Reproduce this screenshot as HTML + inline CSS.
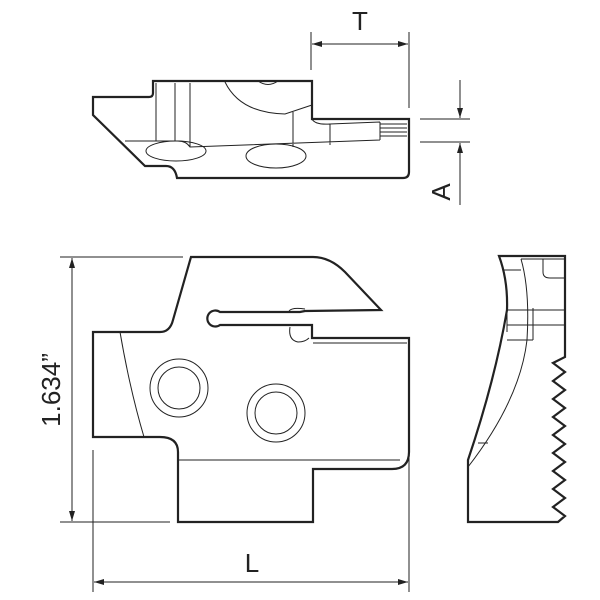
<!DOCTYPE html>
<html><head><style>body{margin:0;background:#fff}svg{display:block}</style></head><body>
<svg width="600" height="600" viewBox="0 0 600 600" xmlns="http://www.w3.org/2000/svg" font-family="Liberation Sans, sans-serif">
<defs>
<marker id="ar" viewBox="0 0 10 6" refX="10" refY="3" markerWidth="10" markerHeight="6" markerUnits="userSpaceOnUse" orient="auto-start-reverse"><path d="M0,0 L10,3 L0,6 z" fill="#222"/></marker>
</defs>
<g fill="none" stroke="#222">
<!-- TOP VIEW -->
<path stroke-width="2.2" d="M93,97 L149,97 Q153,97 153,93 L153,81 L312,81 L312,119 L409,119 L409,172 Q409,178 403,178 L177,178 Q175,166 166,166 L145,166 L93,115 Z"/>
<g stroke-width="1">
<path d="M156,83 V141 M175,83 V141 M190,83 V147 M125,141 L178,141 Q186,141 190,147 L380,140 M225,82 Q240,113 285,114 L312,105 M293,112 V147 M330,124 V145 M312,119 Q315,125 330,124 L380,122 M380,122 V140 M380,124 H407 M380,128 H407 M380,132 H407 M380,136 H407 M258,81 Q268,88 278,81"/>
<ellipse cx="176" cy="151" rx="30" ry="10"/>
<ellipse cx="276" cy="156" rx="30" ry="12"/>
<path d="M311,32 V70 M409,32 V108"/>
<path d="M312,44 H408" marker-start="url(#ar)" marker-end="url(#ar)"/>
<path d="M420,119 H470 M420,142 H470"/>
<path d="M460,80 V118" marker-end="url(#ar)"/><path d="M460,205 V143" marker-end="url(#ar)"/>
</g>
<!-- MAIN VIEW -->
<path stroke-width="2.2" d="M191,257 L313,257 Q330,257 345,272 L381,310 L305,311 L300,312 L220,312 A8,8 0 1 0 220,325 L312,325 L312,338 L409,338 L409,452 Q409,469 392,469 L313,469 L313,522 L178,522 L178,452 Q178,437 160,437 L93,437 L93,332 L160,332 Q170,332 173,320 Z"/>
<g stroke-width="1">
<path d="M120,332 Q130,390 144,437 M178,460 H400 M313,343 H407 M289,311 Q292,307 305,309 M290,327 Q288,340 298,342 Q305,342 309,338"/>
<circle cx="179" cy="388" r="29"/><circle cx="179" cy="388" r="21"/>
<circle cx="276" cy="413" r="29"/><circle cx="276" cy="413" r="21"/>
<path d="M60,257 H183 M60,522 H170"/>
<path d="M72,258 V521" marker-start="url(#ar)" marker-end="url(#ar)"/>
<path d="M93,450 V592 M409,455 V592"/>
<path d="M94,582 H408" marker-start="url(#ar)" marker-end="url(#ar)"/>
</g>
<!-- SIDE VIEW -->
<path stroke-width="2.2" d="M499,256 L565,256 L565,357 L553,363 L565,372 L553,381 L565,390 L553,399 L565,408 L553,417 L565,426 L553,435 L565,444 L553,453 L565,462 L553,471 L565,480 L553,489 L565,498 L553,507 L565,516 L558,522 L468,522 L468,460 Q495,380 507,310 Q508,280 499,256 Z"/>
<g stroke-width="1">
<path d="M521,259 Q530,290 527,340 M521,259 H565 M504,270 H521 M543,259 V272 Q543,278 550,278 H565 M507,310 H565 M507,325 H565 M507,308 V332 M533,308 V340 M507,340 H533 M527,340 Q520,400 468,467 M478,443 H488"/>
</g>
</g>
<text x="360" y="30" font-size="26" text-anchor="middle" fill="#222">T</text>
<text transform="translate(450,192) rotate(-90)" font-size="26" text-anchor="middle" fill="#222">A</text>
<text transform="translate(60,390) rotate(-90)" font-size="26" text-anchor="middle" fill="#222">1.634”</text>
<text x="252" y="572" font-size="26" text-anchor="middle" fill="#222">L</text>
</svg>
</body></html>
